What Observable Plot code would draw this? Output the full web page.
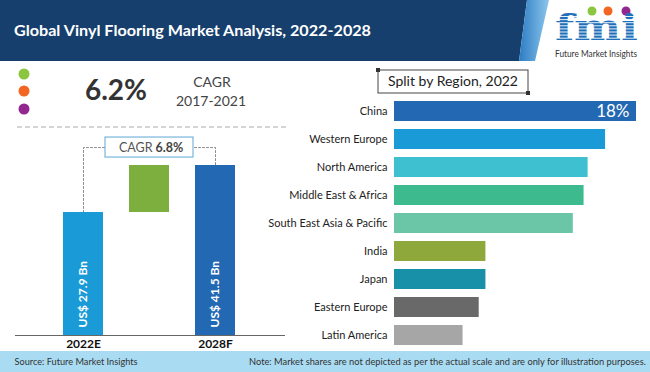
<!DOCTYPE html>
<html><head><meta charset="utf-8">
<script src="https://cdn.jsdelivr.net/npm/d3@7"></script>
<script src="https://cdn.jsdelivr.net/npm/@observablehq/plot@0.6"></script>
<style>
html,body{margin:0;padding:0;background:#fff;}
#root{position:relative;width:650px;height:372px;overflow:hidden;font-family:Lato,"Open Sans",sans-serif;}
#root > *{position:absolute;}
</style></head><body><div id="root"></div>
<script>
// ---- data ----
const title = "Global Vinyl Flooring Market Analysis, 2022-2028";
const histCagr = "6.2%";
const histCagrLabel = ["CAGR", "2017-2021"];
const years = ["2022E", "2028F"];
const marketValues = [27.9, 41.5];
const forecastCagrLabel = "CAGR";
const forecastCagr = "6.8%";
const panelTitle = "Split by Region, 2022";
const regions = ["China", "Western Europe", "North America", "Middle East & Africa", "South East Asia & Pacific", "India", "Japan", "Eastern Europe", "Latin America"];
const shares = [18, 15.7, 14.4, 14.1, 13.3, 6.8, 6.8, 6.3, 5.1];
const regionColors = ["#2368b2", "#1a9ad7", "#3ec0d0", "#3dbb8f", "#6ac6a6", "#8ea83b", "#1790a8", "#696969", "#a6a6a6"];
const source = "Source: Future Market Insights";
const note = "Note: Market shares are not depicted as per the actual scale and are only for illustration purposes.";
const logoText = "Future Market Insights";

const root = document.getElementById("root");

// ---- decoration layer ----
const deco = `
<svg width="650" height="372" style="left:0;top:0" font-family="Lato, sans-serif">
 <defs><linearGradient id="stripe" x1="0" x2="1"><stop offset="0" stop-color="#2c7cc3"/><stop offset="1" stop-color="#8cc6ec"/></linearGradient></defs>
 <polygon points="0,0 527,0 519,61 0,61" fill="#173f6d"/>
 <polygon points="527,0 549,0 535,61 519,61" fill="url(#stripe)"/>
 <text x="14" y="35.5" fill="#fff" font-weight="bold" font-size="15.5" textLength="357" lengthAdjust="spacingAndGlyphs">${title}</text>
 <circle cx="592" cy="11" r="4.5" fill="#8cc63e"/><circle cx="608" cy="11" r="4.5" fill="#f26522"/><circle cx="626" cy="11" r="4.5" fill="#92278f"/>
 <text transform="translate(555,40) scale(1,1.32)" fill="#1f70b8" font-family="DejaVu Serif" font-weight="bold" font-size="27" textLength="83" lengthAdjust="spacingAndGlyphs">fmi</text>
 ${d3.range(8).map(i => `<line x1="552" x2="642" y1="${16.5 + i * 3.1}" y2="${16.5 + i * 3.1}" stroke="#fff" stroke-width="0.9"/>`).join("")}
 <text x="555" y="57" fill="#333" font-size="8.5" textLength="82" lengthAdjust="spacingAndGlyphs">${logoText}</text>
 <circle cx="24" cy="74" r="5.5" fill="#8cc63e"/><circle cx="24" cy="91" r="5.5" fill="#f26522"/><circle cx="24" cy="109" r="5.5" fill="#92278f"/>
 <text x="85" y="100" fill="#333" font-weight="bold" font-size="28" textLength="62" lengthAdjust="spacingAndGlyphs">${histCagr}</text>
 <text x="212" y="87" fill="#444" font-size="14" text-anchor="middle">${histCagrLabel[0]}</text>
 <text x="211" y="106" fill="#444" font-size="14" text-anchor="middle">${histCagrLabel[1]}</text>
 <line x1="17" x2="287" y1="127" y2="127" stroke="#aaa" stroke-dasharray="5,3"/>
 <rect x="378" y="70" width="150" height="23" fill="#fff" stroke="#444"/>
 <rect x="376" y="68" width="4" height="4" fill="#333"/><rect x="526" y="91" width="4" height="4" fill="#333"/>
 <text x="453" y="86" fill="#222" font-size="14" text-anchor="middle">${panelTitle}</text>
 <rect x="0" y="351" width="650" height="21" fill="#a9dcf2"/>
 <text x="14.5" y="365" fill="#333" font-size="9" textLength="123" lengthAdjust="spacingAndGlyphs">${source}</text>
 <text x="249" y="365" fill="#333" font-size="9" textLength="397" lengthAdjust="spacingAndGlyphs">${note}</text>
</svg>`;
root.insertAdjacentHTML("beforeend", deco);

// ---- waterfall ----
const steps = [years[0], forecastCagrLabel, years[1]];
const yFloor = -7.7;
const bracketLevel = marketValues[1] + 5.2;
const wf = [
  {step: years[0], y1: yFloor, y2: marketValues[0], fill: "#1a9bd7", label: `US$ ${marketValues[0]} Bn`},
  {step: forecastCagrLabel, y1: marketValues[0], y2: marketValues[1], fill: "#7daf3f", label: ""},
  {step: years[1], y1: yFloor, y2: marketValues[1], fill: "#2368b2", label: `US$ ${marketValues[1]} Bn`}
];
const bracket = [
  {step: years[0], y: marketValues[0]},
  {step: years[0], y: bracketLevel},
  {step: years[1], y: bracketLevel},
  {step: years[1], y: marketValues[1]}
];
const wfPlot = Plot.plot({
  width: 300, height: 292,
  marginLeft: 15, marginRight: 15, marginTop: 0, marginBottom: 17,
  x: {type: "band", domain: steps, range: [35, 262], padding: 0.4, axis: null},
  y: {domain: [yFloor, marketValues[1]], range: [275, 105], axis: null},
  color: {type: "identity"},
  style: {background: "transparent", fontFamily: "Lato, sans-serif", color: "#111", overflow: "visible"},
  marks: [
    Plot.line(bracket, {x: "step", y: "y", stroke: "#8a8a8a", strokeDasharray: "2,2", strokeWidth: 1}),
    Plot.barY(wf, {x: "step", y1: "y1", y2: "y2", fill: "fill"}),
    Plot.barY([{step: forecastCagrLabel, y: bracketLevel}], {x: "step", y1: "y", y2: "y", insetLeft: -24, insetRight: -24, insetTop: -10, insetBottom: -10, fill: "#fff", stroke: "#5ea7d6", strokeWidth: 1}),
    Plot.text([forecastCagrLabel], {x: d => d, y: () => bracketLevel, text: d => d, textAnchor: "end", dx: 3, fill: "#555", fontSize: 12.5}),
    Plot.text([forecastCagr], {x: () => forecastCagrLabel, y: () => bracketLevel, text: d => d, textAnchor: "start", dx: 6, fill: "#444", fontSize: 12.5, fontWeight: "bold"}),
    Plot.text(wf.filter(d => d.label), {x: "step", y: "y1", text: "label", rotate: -90, textAnchor: "start", dy: -8, fill: "#fff", fontWeight: "bold", fontSize: 12}),
    Plot.ruleY([yFloor], {stroke: "#666", strokeWidth: 1}),
    Plot.axisX(years, {tickSize: 0, tickPadding: 4, fontSize: 12, fontWeight: "bold", label: null})
  ]
});
wfPlot.style.left = "0px"; wfPlot.style.top = "60px";
root.appendChild(wfPlot);

// ---- region bars ----
const regionData = regions.map((r, i) => ({region: r, share: shares[i]}));
const barPlot = Plot.plot({
  width: 400, height: 292,
  marginLeft: 144, marginRight: 14, marginTop: 0, marginBottom: 0,
  x: {domain: [0, shares[0]], range: [144, 386], axis: null},
  y: {domain: regions, range: [30.5, 295.5], padding: 0.3, axis: null},
  color: {domain: regions, range: regionColors},
  style: {background: "transparent", fontFamily: "Lato, sans-serif", color: "#222", overflow: "visible"},
  marks: [
    Plot.barX(regionData, {x: "share", y: "region", fill: "region"}),
    Plot.axisY({tickSize: 0, tickPadding: 7, fontSize: 11, label: null}),
    Plot.text(regionData.slice(0, 1), {x: "share", y: "region", text: d => `${d.share}%`, textAnchor: "end", dx: -7, fill: "#fff", fontSize: 17})
  ]
});
barPlot.style.left = "250px"; barPlot.style.top = "60px";
root.appendChild(barPlot);
</script>
</body></html>
